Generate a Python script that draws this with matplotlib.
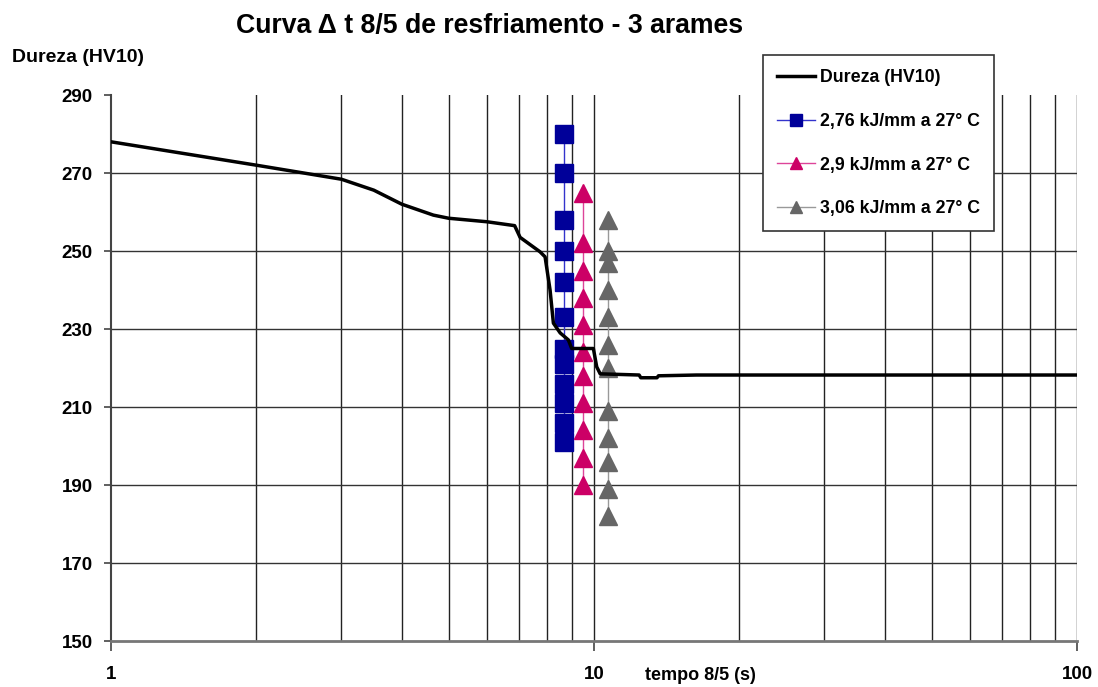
import numpy as np
import matplotlib
matplotlib.use('Agg')
import matplotlib.pyplot as plt
from matplotlib.ticker import FixedLocator, NullFormatter

# Curva de dureza (HV10) x tempo 8/5
tempo_curva = [1.0, 2.0, 3.0, 3.5, 4.0, 4.65, 5.0, 6.0, 6.85, 7.03, 7.73, 7.92, 8.11, 8.24,
               8.51, 8.85, 8.99, 9.97, 10.13, 10.3, 12.4, 12.5, 13.5, 13.6, 16.3, 100.0]
dureza_curva = [278.0, 272.0, 268.4, 265.6, 262.0, 259.2, 258.4, 257.5, 256.5, 253.5, 249.8, 248.5,
                240.0, 231.5, 229.0, 227.2, 225.0, 225.0, 220.3, 218.5, 218.2, 217.5, 217.5, 218.0,
                218.2, 218.2]

# Medicoes para cada aporte termico
tempo_276 = 8.65
dureza_276 = [280, 270, 258, 250, 242, 233, 225, 221, 216, 211, 206, 201]
tempo_29 = 9.5
dureza_29 = [265, 252, 245, 238, 231, 224, 218, 211, 204, 197, 190]
tempo_306 = 10.67
dureza_306 = [258, 250, 247, 240, 233, 226, 220, 209, 202, 196, 189, 182]

labels = ['Dureza (HV10)', '2,76 kJ/mm a 27° C', '2,9 kJ/mm a 27° C', '3,06 kJ/mm a 27° C']

plt.rcParams['font.family'] = ['Liberation Sans', 'DejaVu Sans']
plt.rcParams['font.weight'] = 'bold'

fig = plt.figure(figsize=(10.98, 6.87), dpi=100)
ax = fig.add_axes([111 / 1098, 1 - 641 / 687, 966 / 1098, 546 / 687])

ax.plot(tempo_curva, dureza_curva, color='black', lw=2.5, label=labels[0], zorder=5)
ax.plot([tempo_276] * len(dureza_276), dureza_276, color='#3333cc', lw=1.0, marker='s', ms=13,
        mfc='#000099', mec='#000099', label=labels[1], zorder=3)
ax.plot([tempo_29] * len(dureza_29), dureza_29, color='#dd4499', lw=1.0, marker='^', ms=13,
        mfc='#cc0066', mec='#cc0066', label=labels[2], zorder=3)
ax.plot([tempo_306] * len(dureza_306), dureza_306, color='#999999', lw=1.0, marker='^', ms=13,
        mfc='#666666', mec='#666666', label=labels[3], zorder=3)

ax.set_xscale('log')
ax.set_xlim(1, 100)
ax.set_ylim(150, 290)
ax.set_yticks(np.arange(150, 291, 20))
ax.xaxis.set_major_locator(FixedLocator([1, 10, 100]))
ax.xaxis.set_minor_locator(FixedLocator([2, 3, 4, 5, 6, 7, 8, 9, 20, 30, 40, 50, 60, 70, 80, 90]))
ax.xaxis.set_minor_formatter(NullFormatter())
ax.set_xticklabels(['1', '10', '100'])

# grade: verticais em todos os ticks, horizontais so entre 170 e 270
for xv in [2, 3, 4, 5, 6, 7, 8, 9, 10, 20, 30, 40, 50, 60, 70, 80, 90, 100]:
    ax.axvline(xv, color='#222222', lw=1.0, zorder=1)
for yv in range(170, 271, 20):
    ax.axhline(yv, color='#333333', lw=1.0, zorder=1)

for s in ['top', 'right']:
    ax.spines[s].set_visible(False)
ax.spines['left'].set_color('#444444')
ax.spines['left'].set_linewidth(1.5)
ax.spines['bottom'].set_color('#777777')
ax.spines['bottom'].set_linewidth(2.0)

ax.tick_params(axis='y', which='major', length=5, width=1.2, color='#444444', pad=8, labelsize=13.5)
ax.tick_params(axis='x', which='major', length=7, width=1.2, color='#444444', pad=11, labelsize=13.5)
ax.tick_params(axis='x', which='minor', length=0)

leg = ax.legend(loc='upper left', bbox_to_anchor=(763 / 1098, 1 - 55 / 687), bbox_transform=fig.transFigure,
                fontsize=12.8, frameon=True, fancybox=False, edgecolor='#333333', framealpha=1,
                labelspacing=1.5, handlelength=2.1, handletextpad=0.3, borderpad=0.8, markerscale=0.65,
                borderaxespad=0)
leg.get_frame().set_linewidth(1.2)
leg.set_zorder(10)

fig.text(490 / 1098, 1 - 26 / 687, 'Curva Δ t 8/5 de resfriamento - 3 arames', ha='center', va='center',
         fontsize=19.2, fontweight='bold')
fig.text(12 / 1098, 1 - 57 / 687, 'Dureza (HV10)', ha='left', va='center', fontsize=14, fontweight='bold')
fig.text(645 / 1098, 1 - 676 / 687, 'tempo 8/5 (s)', ha='left', va='center', fontsize=13, fontweight='bold')

plt.savefig('out.png', dpi=100)
